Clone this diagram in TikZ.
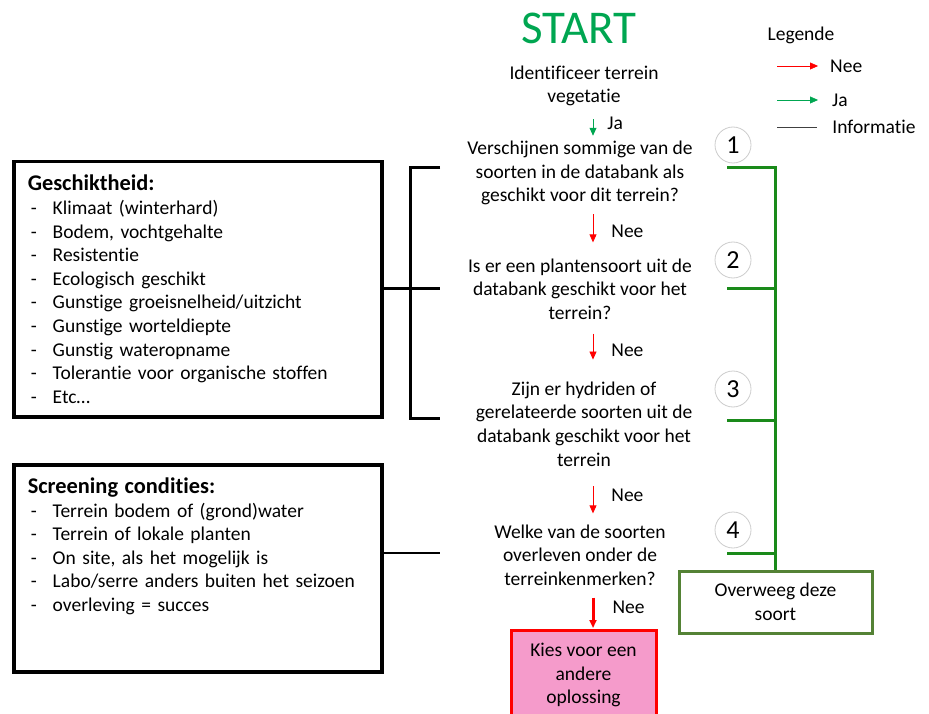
\documentclass[tikz,border=0pt]{standalone}
\usepackage{fontspec}
\setmainfont{Carlito}[Ligatures=NoCommon]
\usetikzlibrary{arrows.meta}
\definecolor{start-green}{HTML}{00A651}
\definecolor{line-green}{HTML}{1A8A1A}
\definecolor{box-green}{HTML}{548235}
\definecolor{nee-red}{HTML}{FF0000}
\definecolor{pink-fill}{HTML}{F59BCB}
\definecolor{circle-gray}{HTML}{CCCCCC}
\definecolor{info-gray}{HTML}{404040}
\newcommand{\itm}[1]{\makebox[25pt][l]{\hspace{3pt}-}#1}
\newcommand{\boxtitle}[1]{{\fontsize{22.4}{23.6}\selectfont\bfseries #1}}

\begin{document}
\begin{tikzpicture}[x=1pt, y=-1pt, >={Triangle[length=8pt, width=7pt]},
    every node/.style={font=\fontsize{19.5}{23.6}\selectfont, inner sep=0pt},
    question/.style={align=center},
    stepnum/.style={draw=circle-gray, circle, thick, minimum size=36pt,
                    font=\fontsize{26}{28}\selectfont},
    listbox/.style={draw, line width=3.5pt, align=left, text width=340pt,
                    inner xsep=14pt, anchor=north west},
    nee/.style={->, nee-red, thick},
    ja/.style={->, start-green, thick},
    jalink/.style={line-green, line width=3pt},
    infolink/.style={black, line width=3pt}]
  \useasboundingbox (0,0) rectangle (929,714);

  % main column of questions
  \node[start-green, font=\fontsize{47}{50}\selectfont] (start) at (579,28) {START};
  \node[question] (ident) at (584,86) {Identificeer terrein\\vegetatie};
  \node[question] (q1) at (580,173) {Verschijnen sommige van de\\soorten in de databank als\\geschikt voor dit terrein?};
  \node[question] (q2) at (580,289) {Is er een plantensoort uit de\\databank geschikt voor het\\terrein?};
  \node[question] (q3) at (584,424) {Zijn er hydriden of\\gerelateerde soorten uit de\\databank geschikt voor het\\terrein};
  \node[question] (q4) at (580,555) {Welke van de soorten\\overleven onder de\\terreinkenmerken?};
  \node[draw=nee-red, fill=pink-fill, line width=3pt, minimum width=145pt,
        minimum height=89pt, align=center] (other) at (583.5,675)
        {Kies voor een\\andere\\oplossing};

  \coordinate (ax) at (593,0);
  \draw[ja, shorten <=13pt, shorten >=5pt] (ident.south -| ax) -- (q1.north -| ax)
    node[midway, right=14pt, text=black] (ja0) {Ja};
  \draw[nee, shorten <=9pt, shorten >=16pt] (q1.south -| ax) -- (q2.north -| ax)
    node[midway, right=18pt, text=black] (nee1) {Nee};
  \draw[nee, shorten <=14pt, shorten >=22pt] (q2.south -| ax) -- (q3.north -| ax)
    node[midway, right=18pt, text=black] (nee2) {Nee};
  \draw[nee, shorten <=20pt, shorten >=11pt] (q3.south -| ax) -- (q4.north -| ax)
    node[midway, right=18pt, text=black] (nee3) {Nee};
  \draw[nee, line width=3pt, shorten <=12pt, shorten >=1pt] (q4.south -| ax) -- (other.north -| ax)
    node[midway, right=18pt, text=black] (nee4) {Nee};

  % step numbers
  \node[stepnum] (n1) at (733,145) {1};
  \node[stepnum] (n2) at (733,260) {2};
  \node[stepnum] (n3) at (733,389) {3};
  \node[stepnum] (n4) at (733,530) {4};

  % yes branch to the green box
  \node[draw=box-green, line width=3pt, minimum width=193pt, minimum height=62pt,
        align=center] (ovw) at (775.5,602) {Overweeg deze\\soort};
  \coordinate (g1) at (727,168);
  \coordinate (g2) at (727,288);
  \coordinate (g3) at (727,420);
  \coordinate (g4) at (727,553);
  \draw[jalink] (g1) -| (ovw.north);
  \foreach \g in {g2,g3,g4}
    \draw[jalink] (\g) -- (\g -| ovw.north);

  % information boxes
  \node[listbox, minimum height=255pt] (geschikt) at (12,160)
    {\boxtitle{Geschiktheid:}\\\itm{Klimaat (winterhard)}\\\itm{Bodem, vochtgehalte}\\
     \itm{Resistentie}\\\itm{Ecologisch geschikt}\\\itm{Gunstige groeisnelheid/uitzicht}\\
     \itm{Gunstige worteldiepte}\\\itm{Gunstig wateropname}\\
     \itm{Tolerantie voor organische stoffen}\\\itm{Etc\ldots}};
  \node[listbox, minimum height=207pt] (screening) at (12,463)
    {\boxtitle{Screening condities:}\\\itm{Terrein bodem of (grond)water}\\
     \itm{Terrein of lokale planten}\\\itm{On site, als het mogelijk is}\\
     \itm{Labo/serre anders buiten het seizoen}\\\itm{overleving = succes}\\\mbox{}\\\mbox{}};

  \coordinate (b1) at (440,168);
  \coordinate (b2) at (440,288);
  \coordinate (b3) at (440,418);
  \coordinate (c4) at (440,553);
  \draw[infolink] (b1) -- ++(-30,0) |- (b3);
  \draw[infolink] (geschikt.east |- b2) -- (b2);
  \draw[black, line width=1.5pt] (screening.east |- c4) -- (c4);

  % legend
  \node (legende) at (801,35) {Legende};
  \coordinate (l1) at (777,66);
  \coordinate (l2) at (777,100);
  \coordinate (l3) at (777,127);
  \draw[nee, thin] (l1) -- ++(41,0) node[right=12pt, text=black] (lnee) {Nee};
  \draw[ja, thin] (l2) -- ++(41,0) node[right=14pt, text=black] (lja) {Ja};
  \draw[info-gray, thick] (l3) -- ++(40,0) node[right=15pt, text=black] (linfo) {Informatie};
\end{tikzpicture}
\end{document}
